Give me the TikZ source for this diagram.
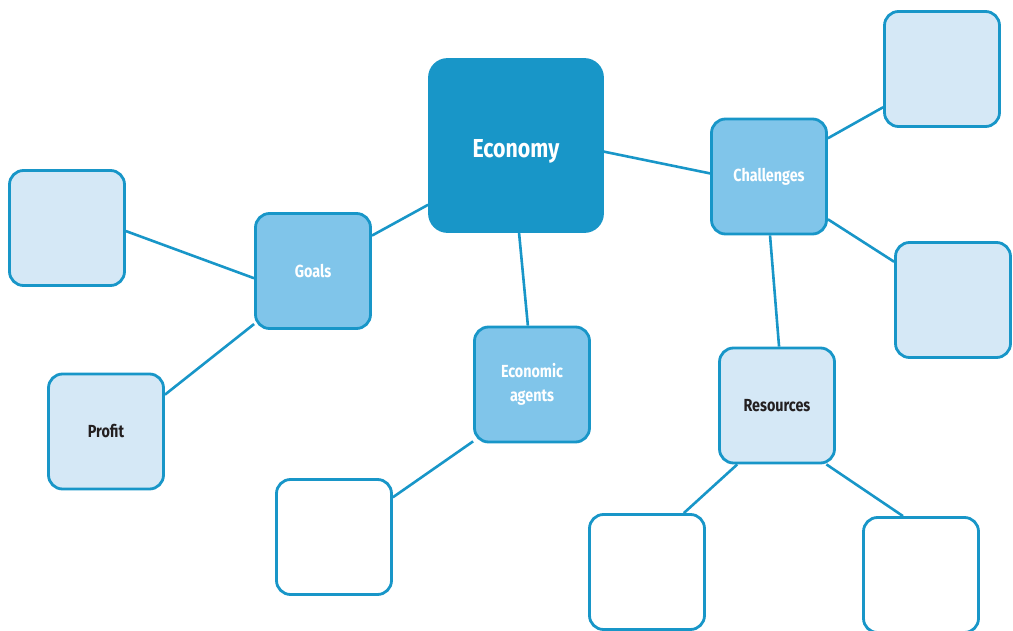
\documentclass[tikz,border=0pt]{standalone}
\usepackage{fontspec}
\setmainfont{Fira Sans}[BoldFont={Fira Sans Bold},BoldFeatures={FakeStretch=0.82}]
\usetikzlibrary{backgrounds}
\definecolor{dark}{HTML}{1896C8}
\definecolor{mid}{HTML}{80C5EA}
\definecolor{light}{HTML}{D5E8F6}
\definecolor{txt}{HTML}{231F20}
\tikzset{
  box/.style={draw=dark, line width=2.8pt, rounded corners=14pt, minimum width=115pt, minimum height=115pt, inner sep=0pt, align=center, font=\bfseries\fontsize{17.5}{24}\selectfont},
  bigbox/.style={box, fill=dark, minimum width=173pt, minimum height=172pt, rounded corners=18pt, text=white, font=\bfseries\fontsize{26}{30}\selectfont},
  midbox/.style={box, fill=mid, text=white},
  lightbox/.style={box, fill=light, text=txt},
  whitebox/.style={box, fill=white},
  link/.style={draw=dark, line width=2.6pt}
}
\begin{document}
\begin{tikzpicture}[x=1pt,y=-1pt]
\useasboundingbox (0,0) rectangle (1013,631);
\clip (0,0) rectangle (1013,631);
\node[bigbox] (econ) at (516,145.5) {\raisebox{-12pt}[0pt][0pt]{Economy}};
\node[midbox] (goals) at (313,271) {Goals};
\node[midbox] (chal) at (769,176.5) {Challenges};
\node[midbox] (agents) at (532,384.5) {Economic\\agents};
\node[lightbox] (res) at (777,405.5) {Resources};
\node[lightbox] (profit) at (106,431.5) {Profit};
\node[lightbox] (lt) at (67,228) {};
\node[lightbox] (tr) at (942,69) {};
\node[lightbox] (rm) at (953,300) {};
\node[whitebox] (bw1) at (334,537) {};
\node[whitebox] (bw2) at (647,572) {};
\node[whitebox] (bw3) at (921,575) {};
\begin{scope}[on background layer]
\draw[link] (econ.214) -- (goals.31);
\draw[link] (econ.356) -- (chal.177);
\draw[link] (econ.272) -- (agents.94);
\draw[link] (goals.187) -- (lt.357);
\draw[link] (goals.222) -- (profit.32);
\draw[link] (agents.224) -- (bw1.34);
\draw[link] (chal.33) -- (tr.213);
\draw[link] (chal.324) -- (rm.147);
\draw[link] (chal.271) -- (res.88);
\draw[link] (res.236) -- (bw2.58);
\draw[link] (res.310) -- (bw3.107);
\end{scope}
\end{tikzpicture}
\end{document}
